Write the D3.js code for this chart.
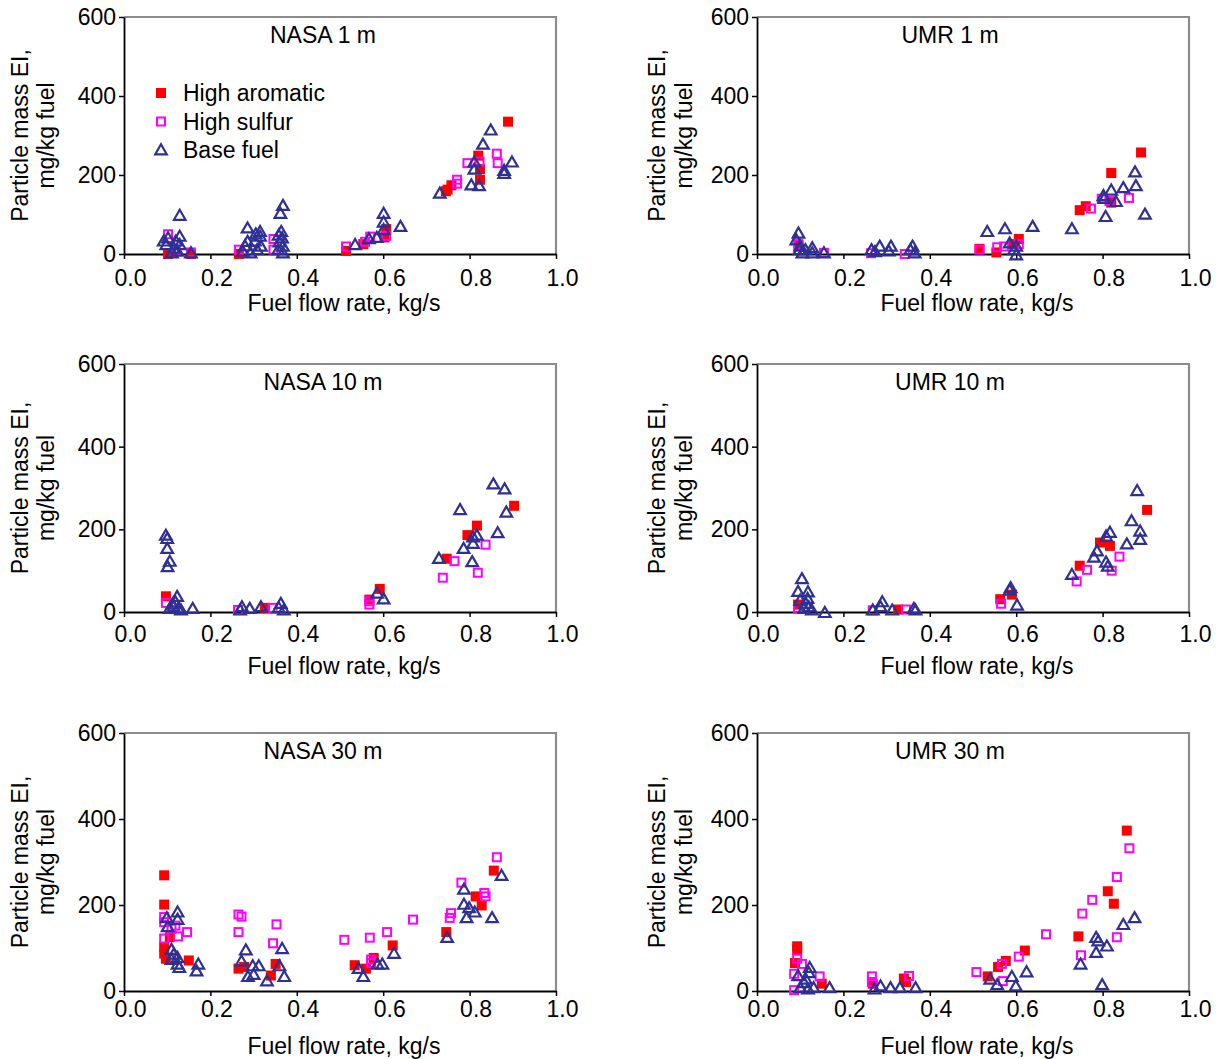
<!DOCTYPE html>
<html>
<head>
<meta charset="utf-8">
<script src="https://cdn.jsdelivr.net/npm/d3@7"></script>
<style>
  body { margin: 0; background: #fff; }
  svg text { font-family: "Liberation Sans", Arial, sans-serif; fill: #000; }
</style>
</head>
<body>
<svg id="chart" width="1217" height="1059"></svg>
<script>
const panelTitles = ["NASA 1 m", "UMR 1 m", "NASA 10 m", "UMR 10 m", "NASA 30 m", "UMR 30 m"];
const seriesNames = ["High aromatic", "High sulfur", "Base fuel"];
const xTicks = [0, 0.2, 0.4, 0.6, 0.8, 1.0];
const yTicks = [0, 200, 400, 600];

// [fuel flow kg/s, particle mass EI mg/kg]
const nasa1Aromatic = [[0.889,335],[0.820,249],[0.824,215],[0.824,188],[0.749,163],[0.758,174],[0.745,159],
  [0.607,63],[0.603,42],[0.554,25],[0.514,8],[0.102,0],[0.155,0],[0.266,0]];
const nasa1Sulfur = [[0.863,254],[0.865,230],[0.795,230],[0.823,234],[0.771,188],[0.771,178],[0.570,44],
  [0.558,31],[0.607,46],[0.514,19],[0.102,50],[0.155,4],[0.266,11],[0.346,38],[0.346,11],[0.120,8]];
const nasa1Base = [[0.849,311],[0.831,275],[0.898,230],[0.811,230],[0.811,212],[0.804,172],[0.822,170],
  [0.880,209],[0.880,201],[0.731,151],[0.640,67],[0.601,100],[0.601,78],[0.601,59],[0.585,39],[0.567,36],
  [0.535,21],[0.368,120],[0.362,100],[0.364,54],[0.366,38],[0.368,17],[0.368,0],[0.358,45],[0.360,28],
  [0.357,8],[0.315,54],[0.315,42],[0.317,17],[0.305,48],[0.303,30],[0.308,8],[0.286,63],[0.286,29],
  [0.275,4],[0.293,0],[0.280,18],[0.129,95],[0.129,42],[0.129,21],[0.124,4],[0.120,30],[0.115,12],
  [0.102,38],[0.098,21],[0.092,30],[0.111,0],[0.155,0]];

const umr1Aromatic = [[0.889,257],[0.820,205],[0.747,111],[0.761,121],[0.820,130],[0.606,38],[0.593,25],
  [0.554,4],[0.515,13],[0.096,21]];
const umr1Sulfur = [[0.861,142],[0.798,140],[0.773,115],[0.816,134],[0.606,25],[0.572,19],[0.556,17],
  [0.515,11],[0.155,3],[0.096,25],[0.264,2],[0.342,0]];
const umr1Base = [[0.875,205],[0.877,170],[0.848,165],[0.820,159],[0.802,145],[0.804,138],[0.831,130],
  [0.898,98],[0.807,92],[0.729,61],[0.638,67],[0.574,61],[0.533,54],[0.585,25],[0.600,17],[0.600,-5],
  [0.595,8],[0.365,0],[0.360,17],[0.355,8],[0.310,17],[0.305,5],[0.284,17],[0.273,3],[0.265,8],
  [0.096,50],[0.091,33],[0.100,17],[0.105,0],[0.098,8],[0.112,8],[0.128,13],[0.128,0],[0.155,0]];

const nasa10Aromatic = [[0.903,257],[0.817,209],[0.795,186],[0.747,129],[0.592,56],[0.568,30],[0.097,38],[0.326,10]];
const nasa10Sulfur = [[0.837,163],[0.819,95],[0.765,123],[0.738,83],[0.568,26],[0.568,18],[0.097,22],
  [0.264,5],[0.344,10]];
const nasa10Base = [[0.855,307],[0.881,295],[0.885,239],[0.778,245],[0.865,189],[0.817,183],[0.808,179],
  [0.808,163],[0.786,151],[0.806,119],[0.729,127],[0.601,29],[0.586,43],[0.097,183],[0.100,175],
  [0.100,151],[0.106,120],[0.101,107],[0.123,35],[0.119,22],[0.115,10],[0.106,6],[0.112,16],[0.125,6],
  [0.132,2],[0.159,6],[0.273,10],[0.291,6],[0.317,10],[0.363,18],[0.370,2],[0.358,8],[0.269,2]];

const umr10Aromatic = [[0.903,247],[0.794,168],[0.817,160],[0.747,112],[0.590,42],[0.563,31],[0.095,18],[0.327,6]];
const umr10Sulfur = [[0.839,134],[0.821,100],[0.764,102],[0.740,74],[0.565,20],[0.095,10],[0.268,4],[0.345,6]];
const umr10Base = [[0.880,291],[0.867,218],[0.887,193],[0.887,173],[0.856,162],[0.817,190],[0.808,181],
  [0.808,118],[0.812,108],[0.787,145],[0.780,130],[0.729,88],[0.587,56],[0.585,50],[0.602,14],[0.104,78],
  [0.095,47],[0.118,46],[0.100,26],[0.113,18],[0.109,6],[0.117,30],[0.120,10],[0.127,2],[0.157,-4],
  [0.290,22],[0.286,10],[0.268,2],[0.313,2],[0.363,6],[0.367,2]];

const nasa30Aromatic = [[0.093,269],[0.093,201],[0.093,102],[0.093,87],[0.097,75],[0.106,125],[0.150,71],
  [0.265,52],[0.278,56],[0.340,36],[0.351,63],[0.534,60],[0.560,52],[0.578,77],[0.622,106],[0.746,137],
  [0.814,220],[0.828,199],[0.856,280]];
const nasa30Sulfur = [[0.863,311],[0.781,252],[0.834,228],[0.837,220],[0.757,181],[0.754,170],[0.669,166],
  [0.609,137],[0.569,124],[0.510,119],[0.572,73],[0.572,65],[0.353,155],[0.345,111],[0.265,178],
  [0.272,173],[0.265,137],[0.146,137],[0.125,127],[0.093,172],[0.093,160],[0.093,122],[0.110,145],[0.119,152]];
const nasa30Base = [[0.874,266],[0.787,234],[0.787,199],[0.799,191],[0.812,181],[0.793,168],[0.852,168],
  [0.748,122],[0.625,85],[0.598,60],[0.587,60],[0.543,50],[0.554,31],[0.371,31],[0.366,96],[0.360,56],
  [0.331,21],[0.312,56],[0.298,56],[0.300,36],[0.287,31],[0.282,93],[0.272,67],[0.168,44],[0.172,60],
  [0.124,181],[0.124,164],[0.099,168],[0.101,147],[0.110,94],[0.115,83],[0.124,75],[0.110,71],[0.124,60],[0.128,52]];

const umr30Aromatic = [[0.856,373],[0.812,232],[0.826,203],[0.744,127],[0.620,94],[0.576,70],[0.558,56],
  [0.534,34],[0.345,21],[0.340,29],[0.150,17],[0.093,104],[0.093,96],[0.088,65],[0.268,17]];
const umr30Sulfur = [[0.862,332],[0.833,265],[0.776,212],[0.753,180],[0.833,125],[0.750,83],[0.669,132],
  [0.606,80],[0.567,63],[0.508,44],[0.569,23],[0.352,35],[0.266,34],[0.266,21],[0.145,34],[0.104,63],
  [0.093,75],[0.086,40],[0.086,2]];
const umr30Base = [[0.874,168],[0.848,152],[0.810,102],[0.790,114],[0.785,122],[0.785,87],[0.749,60],
  [0.799,12],[0.624,42],[0.590,31],[0.540,25],[0.556,12],[0.599,9],[0.168,5],[0.122,52],[0.120,40],
  [0.095,33],[0.109,17],[0.100,5],[0.118,2],[0.131,5],[0.113,25],[0.286,9],[0.309,5],[0.331,5],
  [0.272,2],[0.367,5]];

const panelSeries = [
  [nasa1Aromatic, nasa1Sulfur, nasa1Base],
  [umr1Aromatic, umr1Sulfur, umr1Base],
  [nasa10Aromatic, nasa10Sulfur, nasa10Base],
  [umr10Aromatic, umr10Sulfur, umr10Base],
  [nasa30Aromatic, nasa30Sulfur, nasa30Base],
  [umr30Aromatic, umr30Sulfur, umr30Base]
];

// layout
const cols = [{x0: 124, x1: 556, t1: 96, t2: 70, tx: 199}, {x0: 757, x1: 1189, t1: 92, t2: 65, tx: 193}];
const rows = [{y0: 17, y1: 254, tick: 32, title: 57}, {y0: 364, y1: 612, tick: 30, title: 62},
              {y0: 733, y1: 991, tick: 26, title: 63}];
const red = "#ff0000", magenta = "#ff00ff", navy = "#2e3192";
const fs = 23;

const svg = d3.select("#chart");

function drawMarker(g, kind, cx, cy) {
  if (kind === 0) {
    g.append("rect").attr("x", cx - 5).attr("y", cy - 5).attr("width", 10).attr("height", 10)
      .attr("fill", red);
  } else if (kind === 1) {
    g.append("rect").attr("x", cx - 4).attr("y", cy - 4).attr("width", 8).attr("height", 8)
      .attr("fill", "none").attr("stroke", magenta).attr("stroke-width", 2);
  } else {
    g.append("path").attr("d", d3.symbol(d3.symbolTriangle, 58)())
      .attr("transform", `translate(${cx},${cy})`)
      .attr("fill", "none").attr("stroke", navy).attr("stroke-width", 2.2);
  }
}

panelTitles.forEach((title, i) => {
  const c = cols[i % 2], r = rows[Math.floor(i / 2)];
  const x = d3.scaleLinear().domain([0, 1]).range([c.x0, c.x1]);
  const y = d3.scaleLinear().domain([0, 600]).range([r.y1, r.y0]);
  const g = svg.append("g");

  // gray top/right frame
  g.append("path").attr("d", `M${c.x0},${r.y0}H${c.x1}V${r.y1}`)
    .attr("fill", "none").attr("stroke", "#8c8c8c").attr("stroke-width", 2.2);

  const yAxis = g.append("g").attr("transform", `translate(${c.x0},0)`)
    .call(d3.axisLeft(y).tickValues(yTicks).tickSize(5).tickPadding(3).tickSizeOuter(0));
  const xAxis = g.append("g").attr("transform", `translate(0,${r.y1})`)
    .call(d3.axisBottom(x).tickValues(xTicks).tickFormat(d3.format(".1f")).tickSize(5).tickSizeOuter(0));
  [yAxis, xAxis].forEach(a => {
    a.select(".domain").attr("stroke", "#000").attr("stroke-width", 1.8);
    a.selectAll(".tick line").attr("stroke", "#000").attr("stroke-width", 1.5);
    a.selectAll("text").attr("font-size", fs).attr("font-family", null);
  });
  xAxis.selectAll("text").attr("dy", null).attr("y", r.tick).attr("dx", 6);

  // titles
  g.append("text").attr("x", c.x0 + c.tx).attr("y", r.y0 + 26).attr("text-anchor", "middle")
    .attr("font-size", fs).text(title);
  g.append("text").attr("x", (c.x0 + c.x1) / 2 + 4).attr("y", r.y1 + r.title).attr("text-anchor", "middle")
    .attr("font-size", fs).text("Fuel flow rate, kg/s");
  const ym = (r.y0 + r.y1) / 2;
  g.append("text").attr("transform", `translate(${c.x0 - c.t1},${ym}) rotate(-90)`)
    .attr("text-anchor", "middle").attr("font-size", fs).text("Particle mass EI,");
  g.append("text").attr("transform", `translate(${c.x0 - c.t2},${ym}) rotate(-90)`)
    .attr("text-anchor", "middle").attr("font-size", fs).text("mg/kg fuel");

  // points
  panelSeries[i].forEach((pts, k) => {
    pts.forEach(p => drawMarker(g, k, x(p[0]), y(p[1])));
  });

  // legend in first panel
  if (i === 0) {
    seriesNames.forEach((name, k) => {
      const ly = r.y0 + 76 + k * 28.5;
      drawMarker(g, k, c.x0 + 37, ly + (k === 2 ? 1 : 0));
      g.append("text").attr("x", c.x0 + 59).attr("y", ly + 8).attr("font-size", fs).text(name);
    });
  }
});
</script>
</body>
</html>
